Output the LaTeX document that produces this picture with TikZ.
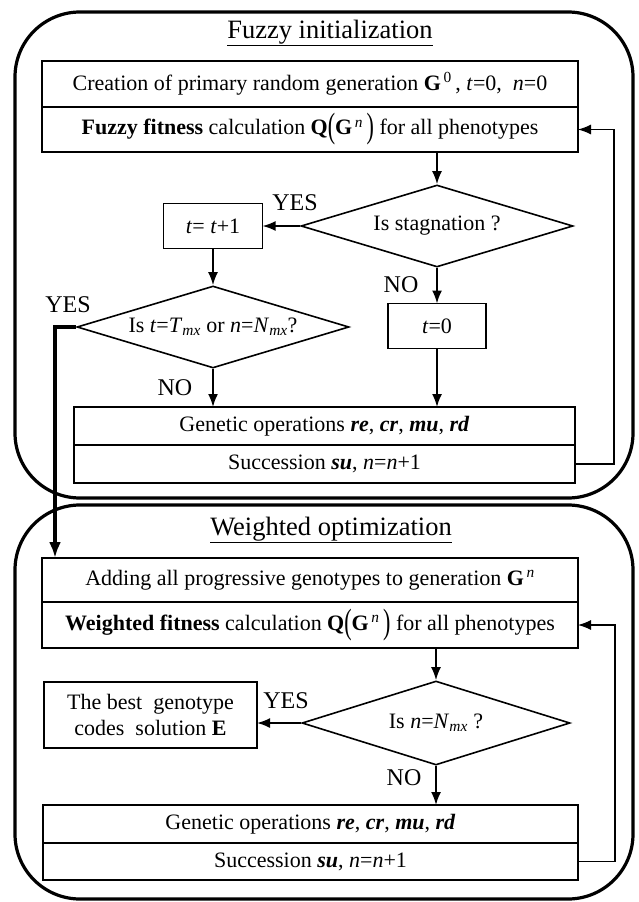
\documentclass[tikz,border=0pt]{standalone}
\usepackage{fontspec}
\setmainfont{Liberation Serif}
\usepackage{graphicx}
\usepackage{tikz}
\usetikzlibrary{shapes.geometric, arrows.meta, positioning}

\newcommand{\QG}{\textbf{Q}\raisebox{-0.3ex}{\scalebox{1}[1.6]{(}}\textbf{G}\textsuperscript{\,\textit{n}}\,\raisebox{-0.3ex}{\scalebox{1}[1.6]{)}}}

\begin{document}
\begin{tikzpicture}[x=1pt, y=-1pt, >={Latex[length=13pt,width=10pt]}, line width=1.6pt,
  font=\fontsize{22}{26}\selectfont,
  box/.style={draw, rectangle, inner sep=0pt, outer sep=0pt},
  cond/.style={draw, diamond, inner sep=0pt, aspect=3.3, minimum width=272pt, minimum height=82pt},
  frame/.style={draw, line width=3.2pt, rounded corners=65pt},
  title/.style={font=\fontsize{26.5}{30}\selectfont},
  lbl/.style={font=\fontsize{24}{28}\selectfont},
  flow/.style={->, line width=1.8pt},
  back/.style={->, line width=1.1pt},
  jump/.style={->, line width=3.8pt, >={Latex[length=16pt,width=12pt]}}]
\useasboundingbox (0,0) rectangle (638,902);
% Marcos
\draw[frame] (15,12) rectangle (633,498);
\draw[frame] (15,505) rectangle (633,899);
% Bloques
\node[title] (tit1) at (330,33) {\underline{Fuzzy initialization}};
\node[box, minimum width=536pt, minimum height=46pt] (crea) at (310,84)
  {Creation of primary random generation \textbf{G}\textsuperscript{\,0}\,, \textit{t}=0,~ \textit{n}=0};
\node[box, minimum width=536pt, minimum height=45pt, below=0pt of crea] (fit1)
  {\textbf{Fuzzy fitness} calculation \QG{} for all phenotypes};
\node[cond] (d1) at (437,226) {Is stagnation ?};
\node[box, minimum width=99pt, minimum height=45pt] (tinc) at (213,226) {\textit{t}= \textit{t}+1};
\node[cond] (d2) at (213,327)
  {Is \textit{t}=\textit{T}\textsubscript{\textit{mx}} or \textit{n}=\textit{N}\textsubscript{\textit{mx}}?};
\node[box, minimum width=98pt, minimum height=45pt] (tzero) at (437,326) {\textit{t}=0};
\node[box, minimum width=501pt, minimum height=38pt] (gen1) at (324.5,426)
  {Genetic operations \textbf{\textit{re}}, \textbf{\textit{cr}}, \textbf{\textit{mu}}, \textbf{\textit{rd}}};
\node[box, minimum width=501pt, minimum height=38pt, below=0pt of gen1] (suc1)
  {Succession \textbf{\textit{su}}, \textit{n}=\textit{n}+1};

\node[title] (tit2) at (331,530) {\underline{Weighted optimization}};
\node[box, minimum width=536pt, minimum height=44pt] (add) at (310,580)
  {Adding all progressive genotypes to generation \textbf{G}\textsuperscript{\,\textit{n}}};
\node[box, minimum width=536pt, minimum height=46pt, below=0pt of add] (fit2)
  {\textbf{Weighted fitness} calculation \QG{} for all phenotypes};
\node[cond, minimum width=268pt, minimum height=84pt] (d3) at (436,723)
  {Is \textit{n}=\textit{N}\textsubscript{\textit{mx}} ?};
\node[box, minimum width=213pt, minimum height=66pt, align=center] (best) at (150.5,715)
  {The best~ genotype\\codes~ solution \textbf{E}};
\node[box, minimum width=535pt, minimum height=38pt] (gen2) at (310.5,824)
  {Genetic operations \textbf{\textit{re}}, \textbf{\textit{cr}}, \textbf{\textit{mu}}, \textbf{\textit{rd}}};
\node[box, minimum width=535pt, minimum height=37pt, below=0pt of gen2] (suc2)
  {Succession \textbf{\textit{su}}, \textit{n}=\textit{n}+1};
% Etiquetas
\node[lbl] (yes1) at (295,203) {YES};
\node[lbl] (no1) at (401,285) {NO};
\node[lbl] (yes2) at (68,305) {YES};
\node[lbl] (no2) at (175,388) {NO};
\node[lbl] (yes3) at (286,701) {YES};
\node[lbl] (no3) at (404,778) {NO};
% Transiciones
\path[flow]
(d1.north |- fit1.south) edge (d1.north)
(d1.west) edge (tinc.east)
(tinc.south) edge (d2.north)
(d1.south) edge (tzero.north)
(tzero.south) edge (tzero.south |- gen1.north)
(d2.south) edge (d2.south |- gen1.north)
(d3.north |- fit2.south) edge (d3.north)
(d3.west) edge (d3.west -| best.east)
(d3.south) edge (d3.south |- gen2.north);
\draw[back] (suc1.east) -- ++(39,0) |- (fit1.east);
\draw[back] (suc2.east) -- ++(37,0) |- (fit2.east);
\draw[jump] (d2.west) -| ([xshift=13pt]add.north west);
\end{tikzpicture}
\end{document}
